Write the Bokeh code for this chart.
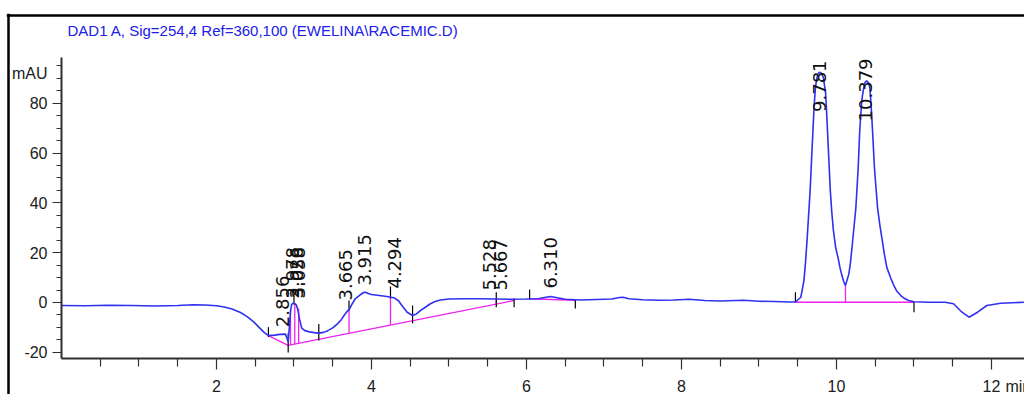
import math
from bokeh.plotting import figure
from bokeh.models import Range1d, FixedTicker, Label, Span
from bokeh.core.properties import value
from bokeh.embed import file_html
from bokeh.resources import INLINE

# ---- data ----
trace_t = [0.0, 0.3, 0.6, 0.9, 1.2, 1.5, 1.7, 1.85, 2.0, 2.1, 2.2, 2.31, 2.4, 2.48, 2.55, 2.61, 2.67,
           2.75, 2.82, 2.89, 2.91, 2.925, 2.94, 2.955, 2.97, 2.99, 3.01, 3.03, 3.05, 3.07, 3.1, 3.14,
           3.2, 3.26, 3.32, 3.38, 3.43, 3.5, 3.56, 3.61, 3.65, 3.69, 3.71, 3.75, 3.79, 3.85, 3.9, 3.92,
           3.96, 4.0, 4.1, 4.2, 4.25, 4.3, 4.35, 4.4, 4.46, 4.53, 4.58, 4.63, 4.7, 4.76, 4.82, 4.89,
           5.0, 5.2, 5.4, 5.6, 5.8, 6.0, 6.15, 6.25, 6.31, 6.38, 6.5, 6.7, 6.9, 7.1, 7.2, 7.25, 7.32,
           7.5, 7.7, 7.9, 8.1, 8.3, 8.5, 8.8, 9.0, 9.2, 9.4, 9.47, 9.54, 9.58, 9.60, 9.62, 9.64, 9.66,
           9.675, 9.69, 9.71, 9.725, 9.74, 9.76, 9.78, 9.80, 9.83, 9.86, 9.875, 9.89, 9.905, 9.92, 9.94,
           9.96, 9.99, 10.02, 10.045, 10.07, 10.095, 10.116, 10.16, 10.18, 10.2, 10.225, 10.25, 10.265,
           10.28, 10.30, 10.315, 10.33, 10.35, 10.37, 10.39, 10.41, 10.43, 10.445, 10.46, 10.475, 10.49,
           10.51, 10.53, 10.56, 10.59, 10.62, 10.65, 10.70, 10.74, 10.78, 10.83, 10.88, 10.93, 11.0,
           11.2, 11.4, 11.51, 11.62, 11.71, 11.82, 11.94, 12.12, 12.43]
trace_y = [-1.2, -1.3, -1.1, -1.2, -1.4, -1.2, -0.9, -1.0, -1.3, -1.8, -2.6, -4.0, -5.8, -7.8, -10.0, -11.9, -13.3,
           -13.1, -12.8, -12.7, -14.5, -15.9, -10.0, -3.5, -0.8, -0.3, -0.5, -1.0, -3.0, -6.5, -10.3, -11.3,
           -11.8, -12.1, -12.3, -12.0, -11.4, -10.2, -8.6, -6.9, -5.0, -3.4, -3.0, -0.6, 1.5, 3.0, 4.0, 4.1,
           3.6, 3.2, 2.8, 2.4, 2.1, 1.8, 0.6, -1.5, -3.9, -5.2, -4.6, -3.3, -1.8, -0.5, 0.4, 1.0,
           1.4, 1.5, 1.5, 1.4, 1.3, 1.4, 1.5, 2.1, 2.4, 2.0, 1.3, 1.0, 1.2, 1.4, 2.0, 2.1, 1.5,
           1.1, 0.9, 1.0, 1.3, 0.8, 0.6, 0.9, 0.5, 0.4, 0.2, 0.2, 2.1, 8.8, 16.0, 24.9, 35.0, 45.0,
           55.0, 65.0, 78.0, 85.0, 89.0, 91.8, 92.5, 92.2, 90.5, 84.0, 75.0, 65.0, 55.0, 45.0, 36.0,
           29.0, 22.0, 18.0, 14.0, 10.8, 8.2, 6.8, 11.5, 16.0, 22.0, 30.0, 38.0, 46.0,
           54.0, 69.0, 76.0, 82.0, 86.0, 88.5, 89.0, 88.3, 86.5, 80.0, 72.0, 63.0, 54.0,
           46.0, 38.0, 31.0, 25.0, 19.0, 14.0, 9.8, 6.8, 4.5, 2.8, 1.6, 0.8, 0.3,
           0.1, 0.1, -0.5, -3.9, -5.9, -3.9, -1.2, -0.3, 0.1]

# integration baselines (magenta)
base_x0 = [2.67, 2.925, 6.04, 9.47]
base_y0 = [-13.3, -17.2, 1.5, 0.1]
base_x1 = [2.925, 5.84, 6.63, 11.0]
base_y1 = [-17.2, 0.8, 0.9, 0.1]

# drop lines (magenta)
drop_t = [2.955, 3.01, 3.06, 3.71, 4.245, 5.61, 10.116]
drop_top = [-3.0, -0.5, -2.5, -3.0, 2.1, 1.4, 6.8]
drop_bot = [-17.0, -16.7, -16.4, -12.2, -9.0, -0.5, 0.1]

# peak start / end markers (black)
mark_t = [2.67, 2.925, 3.0, 3.32, 3.71, 4.245, 4.53, 5.61, 5.84, 6.04, 6.63, 9.47, 11.0]
mark_y0 = [-9.9, -12.4, 3.6, -8.6, 0.8, 6.4, -1.2, 4.1, 1.6, 5.2, 1.2, 4.1, 0.1]
mark_y1 = [-13.9, -20.1, -0.8, -15.3, -3.2, 1.6, -8.4, -1.9, -1.9, 1.2, -2.4, 0.1, -3.9]

# retention-time labels
rt_small_t = [2.856, 2.978, 3.026, 3.058, 3.665, 3.915, 4.294, 5.528, 5.667, 6.310]
rt_small_y = [-9.9, 1.6, 1.6, 1.6, 0.8, 6.8, 5.6, 4.8, 4.8, 5.6]
rt_small_text = ["2.856", "2.978", "3.026", "3.058", "3.665", "3.915", "4.294", "5.528", "5.667", "6.310"]
rt_big_t = [9.781, 10.379]
rt_big_y = [97.2, 98.0]
rt_big_text = ["9.781", "10.379"]

x_ticks = [2, 4, 6, 8, 10, 12]
x_minor = [0.5, 1, 1.5, 2.5, 3, 3.5, 4.5, 5, 5.5, 6.5, 7, 7.5, 8.5, 9, 9.5, 10.5, 11, 11.5, 12.5]
y_ticks = [-20, 0, 20, 40, 60, 80]
y_tick_labels = ["-20", "0", "20", "40", "60", "80"]
y_minor = [-20, -15, -10, -5, 0, 5, 10, 15, 20, 25, 30, 35, 40, 45, 50, 55, 60, 65, 70, 75, 80, 85, 90, 95]

title_text = "DAD1 A, Sig=254,4 Ref=360,100 (EWELINA\\RACEMIC.D)"

FONT = "Liberation Sans"
BLUE = "#3030f0"
MAG = "#f020f0"
AX = "#303030"

X0, X1 = -0.7097, 12.426
Y0, Y1 = -36.95, 116.06

p = figure(width=1024, height=394, output_backend="svg", toolbar_location=None,
           x_range=Range1d(X0, X1), y_range=Range1d(Y0, Y1),
           min_border_left=6, min_border_right=0, min_border_bottom=0, min_border_top=13)
p.background_fill_color = "white"
p.border_fill_color = "white"
p.outline_line_color = None
p.grid.visible = False

# frame border (top & left)
p.add_layout(Span(location=X0 + 2 / 77.5, dimension="height", line_color="black", line_width=2.5))
p.add_layout(Span(location=Y1 - 2 / 2.49, dimension="width", line_color="black", line_width=2.5))

# axes placed inside the frame
for ax in p.xaxis:
    ax.fixed_location = -22.5
    ax.bounds = (0, X1)
    ax.ticker = FixedTicker(ticks=x_ticks, minor_ticks=x_minor)
    ax.axis_line_color = AX
    ax.axis_line_width = 2
    ax.major_tick_line_color = AX
    ax.minor_tick_line_color = AX
    ax.major_tick_line_width = 1.2
    ax.minor_tick_line_width = 1.2
    ax.major_tick_in = 0
    ax.minor_tick_in = 0
    ax.major_tick_out = 11
    ax.minor_tick_out = 8
    ax.major_label_standoff = 10
    ax.major_label_text_font = FONT
    ax.major_label_text_font_size = "16px"
    ax.major_label_text_color = "#202020"

for ax in p.yaxis:
    ax.fixed_location = 0
    ax.bounds = (-22.5, 98.4)
    ax.ticker = FixedTicker(ticks=y_ticks, minor_ticks=y_minor)
    ax.major_label_overrides = dict(zip(y_ticks, y_tick_labels))
    ax.axis_line_color = AX
    ax.axis_line_width = 2
    ax.major_tick_line_color = AX
    ax.minor_tick_line_color = AX
    ax.major_tick_line_width = 1.2
    ax.minor_tick_line_width = 1.2
    ax.major_tick_in = 0
    ax.minor_tick_in = 0
    ax.major_tick_out = 9
    ax.minor_tick_out = 5
    ax.major_label_standoff = 5
    ax.major_label_text_font = FONT
    ax.major_label_text_font_size = "16px"
    ax.major_label_text_color = "#202020"

# integration graphics
p.segment(x0=base_x0, y0=base_y0, x1=base_x1, y1=base_y1, line_color=MAG, line_width=1.3)
p.segment(x0=drop_t, y0=drop_top, x1=drop_t, y1=drop_bot, line_color=MAG, line_width=1.3)
p.segment(x0=mark_t, y0=mark_y0, x1=mark_t, y1=mark_y1, line_color="black", line_width=1.2)

# chromatogram trace
p.line(trace_t, trace_y, line_color=BLUE, line_width=1.6)

# retention time labels
p.text(x=rt_small_t, y=rt_small_y, text=rt_small_text, angle=math.pi / 2,
       text_align="left", text_baseline="middle", text_font=value("DejaVu Sans"),
       text_font_size="18px", text_color="#101010")
p.text(x=rt_big_t, y=rt_big_y, text=rt_big_text, angle=math.pi / 2,
       text_align="right", text_baseline="middle", text_font=value("DejaVu Sans"),
       text_font_size="18px", text_color="#101010")

# title, unit labels
p.add_layout(Label(x=0.077, y=109.2, text=title_text, text_baseline="middle", text_align="left",
                   text_font=FONT, text_font_size="15px", text_color="#2020e8"))
p.add_layout(Label(x=0, y=92.0, x_offset=-14, text="mAU", text_baseline="middle", text_align="right",
                   text_font=FONT, text_font_size="16px", text_color="#202020"))
p.add_layout(Label(x=12, y=-22.5, x_offset=14, y_offset=-28, text="min", text_baseline="middle",
                   text_align="left", text_font=FONT, text_font_size="16px", text_color="#202020"))

open("out.html", "w").write(file_html(p, INLINE))
